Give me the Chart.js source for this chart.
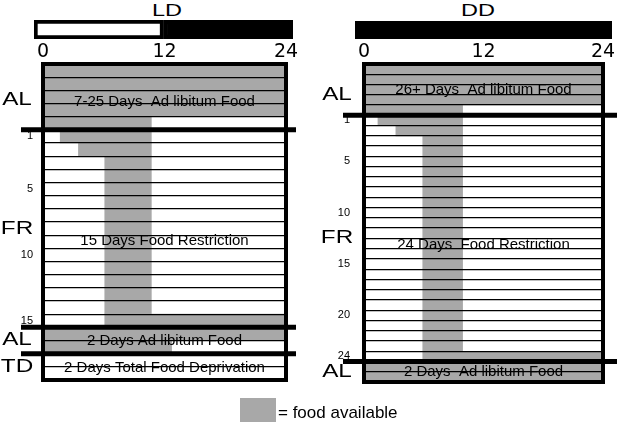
<!DOCTYPE html>
<html><head><meta charset="utf-8">
<script src="https://cdn.jsdelivr.net/npm/chart.js@4.4.1/dist/chart.umd.min.js"></script>
<style>
html,body{margin:0;padding:0;background:#fff;width:627px;height:425px;overflow:hidden;font-family:"Liberation Sans",Arial,sans-serif;}
canvas{position:absolute;}
.ttl{position:absolute;top:1px;font-size:17px;line-height:19px;transform:translateX(-50%) scaleX(1.38);color:#000;white-space:nowrap;}
</style></head><body>
<div class="ttl" style="left:167px">LD</div>
<div class="ttl" style="left:478px">DD</div>
<canvas id="ld" width="313" height="425" style="left:0;top:0"></canvas>
<canvas id="dd" width="314" height="425" style="left:313px;top:0"></canvas>
<canvas id="ldBar" width="259" height="19" style="left:34px;top:20px"></canvas>
<canvas id="ddBar" width="257" height="18" style="left:355px;top:21px"></canvas>
<div style="position:absolute;left:240px;top:398px;width:36px;height:24px;background:#a8a8a8"></div>
<div style="position:absolute;left:278px;top:403px;font-size:17px;line-height:20px;color:#000;white-space:nowrap">= food available</div>
<script>
// ---------- data ----------
const hourTicks = [0, 12, 24];

// light/dark bars (hours)
const ldPhaseFrom = [0, 12];
const ldPhaseTo = [12, 24];
const ldPhaseColor = ['#ffffff', '#000000'];
const ddPhaseFrom = [0];
const ddPhaseTo = [24];
const ddPhaseColor = ['#000000'];

// LD panel
const ldSectionNames = ['AL', 'FR', 'AL', 'TD'];
const ldSectionDays = [5, 15, 2, 2];
const ldSectionTexts = ['7-25 Days  Ad libitum Food', '15 Days Food Restriction', '2 Days Ad libitum Food', '2 Days Total Food Deprivation'];
const ldFoodStart = [0, 0, 0, 0, 0,
  1.7, 3.5, 6.1, 6.1, 6.1, 6.1, 6.1, 6.1, 6.1, 6.1, 6.1, 6.1, 6.1, 6.1, 6.1,
  0, 0,
  null, null];
const ldFoodEnd = [24, 24, 24, 24, 10.7,
  10.7, 10.7, 10.7, 10.7, 10.7, 10.7, 10.7, 10.7, 10.7, 10.7, 10.7, 10.7, 10.7, 10.7, 24,
  24, 12.7,
  null, null];
const ldDayTicks = [1, 5, 10, 15];

// DD panel
const ddSectionNames = ['AL', 'FR', 'AL'];
const ddSectionDays = [5, 24, 2];
const ddSectionTexts = ['26+ Days  Ad libitum Food', '24 Days  Food Restriction', '2 Days  Ad libitum Food'];
const ddFoodStart = [0, 0, 0, 0, 0,
  1.4, 3.2, 5.9, 5.9, 5.9, 5.9, 5.9, 5.9, 5.9, 5.9, 5.9, 5.9, 5.9, 5.9, 5.9, 5.9, 5.9, 5.9, 5.9, 5.9, 5.9, 5.9, 5.9, 5.9,
  0, 0];
const ddFoodEnd = [24, 24, 24, 24, 9.9,
  9.9, 9.9, 9.9, 9.9, 9.9, 9.9, 9.9, 9.9, 9.9, 9.9, 9.9, 9.9, 9.9, 9.9, 9.9, 9.9, 9.9, 9.9, 9.9, 9.9, 9.9, 9.9, 9.9, 24,
  24, 24];
const ddDayTicks = [1, 5, 10, 15, 20, 24];

// ---------- drawing ----------
const FOOD_GREY = '#a8a8a8';

const panelDecor = {
  id: 'panelDecor',
  afterDraw(chart, args, o) {
    const { ctx, chartArea: a } = chart;
    const y = chart.scales.y;
    ctx.save();
    ctx.strokeStyle = '#000';
    ctx.fillStyle = '#000';
    let start = 0;
    o.names.forEach((name, i) => {
      const n = o.days[i];
      const mid = start + (n - 1) / 2;
      ctx.font = '15px "Liberation Sans", Arial, sans-serif';
      ctx.textAlign = 'center';
      ctx.textBaseline = 'middle';
      ctx.fillText(o.texts[i], (a.left + a.right) / 2, y.getPixelForValue(mid + o.textShift[i]));
      ctx.save();
      ctx.translate(a.left - o.labelOffset, y.getPixelForValue(mid + o.labelShift[i]));
      ctx.scale(1.35, 1);
      ctx.font = '18px "Liberation Sans", Arial, sans-serif';
      ctx.fillText(name, 0, 0);
      ctx.restore();
      start += n;
      if (i < o.names.length - 1) {
        const py = y.getPixelForValue(start - 0.5);
        ctx.lineWidth = 5;
        ctx.beginPath();
        ctx.moveTo(a.left - o.extend[0], py);
        ctx.lineTo(a.right + o.extend[1], py);
        ctx.stroke();
      }
    });
    ctx.lineWidth = 4;
    ctx.strokeRect(a.left, a.top, a.right - a.left, a.bottom - a.top);
    ctx.restore();
  }
};

function buildPanel(id, cfg) {
  const labels = cfg.start.map((_, i) => 'row' + (i + 1));
  const frFirst = cfg.days[0];
  const tickText = labels.map(() => '');
  cfg.dayTicks.forEach(d => { tickText[frFirst + d - 1] = String(d); });
  const data = cfg.start.map((s, i) => s === null ? null : [s, cfg.end[i]]);
  return new Chart(document.getElementById(id), {
    type: 'bar',
    data: {
      labels,
      datasets: [{ data, backgroundColor: FOOD_GREY, borderWidth: 0, barPercentage: 1, categoryPercentage: 1 }]
    },
    options: {
      indexAxis: 'y',
      responsive: false,
      animation: false,
      devicePixelRatio: 1,
      layout: { padding: { left: 0, top: 0, right: cfg.padRight, bottom: cfg.padBottom } },
      plugins: {
        legend: { display: false },
        tooltip: { enabled: false },
        panelDecor: {
          names: cfg.names, days: cfg.days, texts: cfg.texts,
          textShift: cfg.textShift, labelShift: cfg.labelShift,
          labelOffset: cfg.labelOffset, extend: cfg.extend
        }
      },
      scales: {
        x: {
          type: 'linear', position: 'top', min: 0, max: 24,
          afterBuildTicks: s => { s.ticks = hourTicks.map(v => ({ value: v })); },
          ticks: { font: { family: 'DejaVu Sans', size: 19 }, color: '#000', padding: 1, maxRotation: 0, autoSkip: false },
          grid: { display: false, drawTicks: false },
          border: { display: false },
          afterFit: s => { s.height = cfg.top; }
        },
        y: {
          type: 'category', position: 'left',
          ticks: {
            autoSkip: false, color: '#000',
            font: { family: 'Liberation Sans', size: 11 },
            padding: cfg.labelPad,
            callback: (v, i) => tickText[i]
          },
          grid: { color: '#000', lineWidth: 1.3, drawTicks: false, offset: true, z: 1 },
          border: { display: false },
          afterFit: s => { s.width = cfg.left; }
        }
      }
    },
    plugins: [panelDecor]
  });
}

function buildPhaseBar(id, from, to, colors) {
  return new Chart(document.getElementById(id), {
    type: 'bar',
    data: {
      labels: [''],
      datasets: from.map((f, i) => ({
        data: [[f, to[i]]], backgroundColor: colors[i], borderColor: '#000',
        borderWidth: 4, borderSkipped: false, grouped: false,
        barPercentage: 1, categoryPercentage: 1
      }))
    },
    options: {
      indexAxis: 'y', responsive: false, animation: false, devicePixelRatio: 1,
      layout: { padding: 0 },
      plugins: { legend: { display: false }, tooltip: { enabled: false } },
      scales: { x: { display: false, min: 0, max: 24 }, y: { display: false } }
    }
  });
}

buildPanel('ld', {
  names: ldSectionNames, days: ldSectionDays, texts: ldSectionTexts,
  start: ldFoodStart, end: ldFoodEnd, dayTicks: ldDayTicks,
  textShift: [0.4, 0.9, 0, 0.1], labelShift: [0.2, 0, 0, 0],
  labelOffset: 26, extend: [22, 10],
  left: 43, top: 64, padRight: 27, padBottom: 45, labelPad: 10
});
buildPanel('dd', {
  names: ddSectionNames, days: ddSectionDays, texts: ddSectionTexts,
  start: ddFoodStart, end: ddFoodEnd, dayTicks: ddDayTicks,
  textShift: [0, 0.6, 0], labelShift: [0.5, 0, 0],
  labelOffset: 27, extend: [21, 14],
  left: 51, top: 64, padRight: 24, padBottom: 43, labelPad: 14
});
buildPhaseBar('ldBar', ldPhaseFrom, ldPhaseTo, ldPhaseColor);
buildPhaseBar('ddBar', ddPhaseFrom, ddPhaseTo, ddPhaseColor);
</script>
</body></html>
